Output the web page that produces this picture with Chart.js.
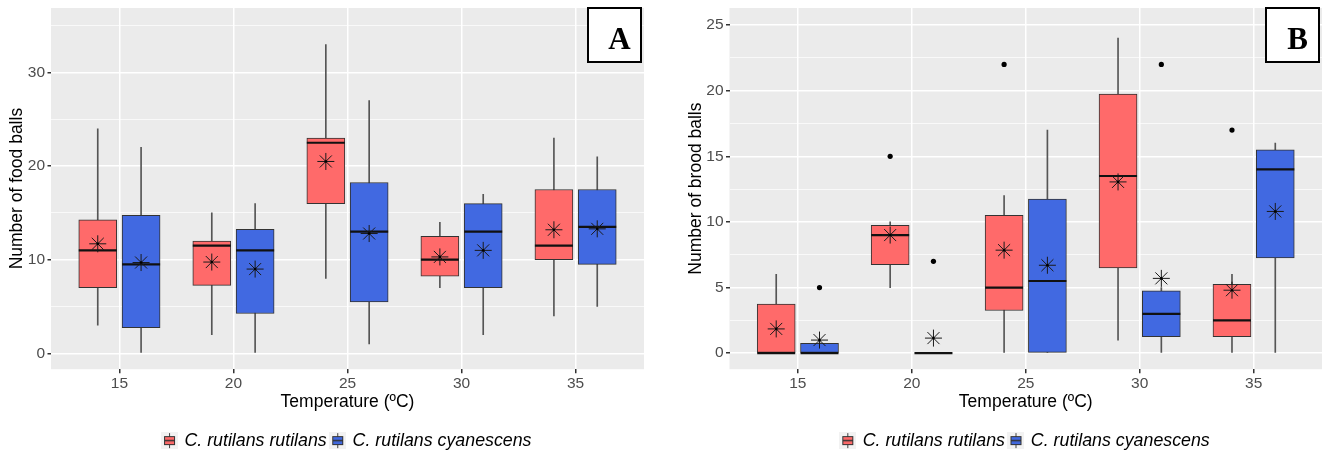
<!DOCTYPE html>
<html>
<head>
<meta charset="utf-8">
<script src="https://cdn.jsdelivr.net/npm/chart.js@4.4.1/dist/chart.umd.min.js"></script>
<style>
  html, body { margin: 0; padding: 0; background: #fff; overflow: hidden; }
  .panel { position: absolute; top: 0; width: 665px; height: 460px; }
</style>
</head>
<body>
<div class="panel" style="left:0"><canvas id="foodChart" width="665" height="460"></canvas></div>
<div class="panel" style="left:665px"><canvas id="broodChart" width="665" height="460"></canvas></div>
<script>
const temps = ["15", "20", "25", "30", "35"];
const speciesNames = ["C. rutilans rutilans", "C. rutilans cyanescens"];

// food balls, C. r. rutilans
const foodRutLo = [3, 2, 8, 7, 4];
const foodRutQ1 = [7, 7.25, 16, 8.25, 10];
const foodRutMed = [11, 11.5, 22.5, 10, 11.5];
const foodRutQ3 = [14.25, 12, 23, 12.5, 17.5];
const foodRutHi = [24, 15, 33, 14, 23];
const foodRutMean = [11.7, 9.75, 20.5, 10.3, 13.2];

// food balls, C. r. cyanescens
const foodCyaLo = [0, 0, 1, 2, 5];
const foodCyaQ1 = [2.75, 4.25, 5.5, 7, 9.5];
const foodCyaMed = [9.5, 11, 13, 13, 13.5];
const foodCyaQ3 = [14.75, 13.25, 18.25, 16, 17.5];
const foodCyaHi = [22, 16, 27, 17, 21];
const foodCyaMean = [9.7, 9, 12.8, 11, 13.3];

// brood balls, C. r. rutilans
const broodRutLo = [0, 5, 0, 1, 0];
const broodRutQ1 = [0, 6.75, 3.25, 6.5, 1.25];
const broodRutMed = [0, 9, 5, 13.5, 2.5];
const broodRutQ3 = [3.75, 9.75, 10.5, 19.75, 5.25];
const broodRutHi = [6, 10, 12, 24, 6];
const broodRutMean = [1.85, 9, 7.85, 13.05, 4.8];
const broodRutOutTemp = ["20", "25", "35"];
const broodRutOutVal = [15, 22, 17];

// brood balls, C. r. cyanescens
const broodCyaLo = [0, 0, 0, 0, 0];
const broodCyaQ1 = [0, 0, 0, 1.25, 7.25];
const broodCyaMed = [0, 0, 5.5, 3, 14];
const broodCyaQ3 = [0.75, 0, 11.75, 4.75, 15.5];
const broodCyaHi = [1, 0, 17, 5, 16];
const broodCyaMean = [1, 1.15, 6.7, 5.7, 10.8];
const broodCyaOutTemp = ["15", "20", "30"];
const broodCyaOutVal = [5, 7, 22];

const RED = "#FF6A6A";
const BLUE = "#4169E1";
const DODGE = 0.19;
const FONT = "'Liberation Sans', Arial, sans-serif";

Chart.defaults.font.family = FONT;

function keyIcon(fill) {
  const c = document.createElement("canvas");
  c.width = 17; c.height = 17;
  const g = c.getContext("2d");
  g.fillStyle = "#F2F2F2";
  g.fillRect(0, 0, 17, 17);
  g.strokeStyle = "#444";
  g.lineWidth = 1;
  g.beginPath(); g.moveTo(8.5, 1); g.lineTo(8.5, 16); g.stroke();
  g.fillStyle = fill;
  g.fillRect(3, 4, 11, 9);
  g.strokeStyle = "#333";
  g.strokeRect(3.5, 4.5, 10, 8);
  g.lineWidth = 1.5;
  g.beginPath(); g.moveTo(3, 8.5); g.lineTo(14, 8.5); g.stroke();
  return c;
}

function boxDatasets(s, shift, fill) {
  const at = (arr) => arr.map((v, i) => ({ x: i + 1 + shift, y: v }));
  const out = [
    { type: "bar", data: temps.map((t, i) => ({ x: i + 1 + shift, y: [s.lo[i], s.hi[i]] })),
      backgroundColor: "#555", barThickness: 1, grouped: false, order: 5 },
    { type: "bar", data: temps.map((t, i) => ({ x: i + 1 + shift, y: [s.q1[i], s.q3[i]] })),
      backgroundColor: fill, borderColor: "#333", borderWidth: 1, borderSkipped: false,
      barThickness: 38, grouped: false, order: 4 },
    { type: "scatter", data: at(s.med), pointStyle: "line", pointRadius: 19,
      pointBorderWidth: 2.2, pointBorderColor: "#111", order: 3 },
    { type: "scatter", data: at(s.mean), pointStyle: "star", pointRadius: 8.5,
      pointBorderWidth: 1, pointBorderColor: "#1a1a1a", order: 1 },
    { type: "scatter", data: at(s.mean), pointStyle: "circle", pointRadius: 1.3,
      pointBackgroundColor: "#000", pointBorderWidth: 0, order: 0 }
  ];
  if (s.outT) {
    out.push({ type: "scatter",
      data: s.outT.map((t, k) => ({ x: temps.indexOf(t) + 1 + shift, y: s.outV[k] })),
      pointStyle: "circle", pointRadius: 2.6, pointBackgroundColor: "#000",
      pointBorderWidth: 0, order: 2 });
  }
  return out;
}

// let layout.padding alone decide where the plot area sits
function noScalePadding(sc) {
  sc.paddingTop = 0; sc.paddingBottom = 0;
  sc.paddingLeft = 0; sc.paddingRight = 0;
}

const panelBg = {
  id: "panelBg",
  beforeDraw(chart) {
    const a = chart.chartArea, ctx = chart.ctx;
    ctx.save();
    ctx.fillStyle = "#EBEBEB";
    ctx.fillRect(a.left, a.top, a.right - a.left, a.bottom - a.top);
    ctx.restore();
  }
};

const panelTag = {
  id: "panelTag",
  afterDraw(chart, args, opts) {
    const a = chart.chartArea, ctx = chart.ctx;
    const x = a.right - 57, y = a.top - 1;
    ctx.save();
    ctx.fillStyle = "#fff";
    ctx.fillRect(x, y, 55, 56);
    ctx.strokeStyle = "#000";
    ctx.lineWidth = 2;
    ctx.strokeRect(x + 1, y + 1, 53, 54);
    ctx.fillStyle = "#000";
    ctx.font = "bold 31px 'Liberation Serif', 'Times New Roman', serif";
    ctx.textAlign = "center";
    ctx.textBaseline = "alphabetic";
    ctx.fillText(opts.text, x + 32.5, y + 42);
    ctx.restore();
  }
};

function makePanel(id, p) {
  const majorOf = (v) => Math.abs(v / p.major - Math.round(v / p.major)) < 1e-6;
  new Chart(document.getElementById(id), {
    type: "bar",
    data: {
      datasets: [
        ...boxDatasets(p.rut, -DODGE, RED),
        ...boxDatasets(p.cya, DODGE, BLUE)
      ]
    },
    options: {
      responsive: false,
      animation: false,
      events: [],
      layout: { autoPadding: false, padding: { top: 8, right: p.padRight, left: 0, bottom: 0.5 } },
      scales: {
        x: {
          type: "linear", min: 0.4, max: 5.6, offset: false,
          afterBuildTicks: (sc) => { sc.ticks = temps.map((t, i) => ({ value: i + 1 })); },
          afterFit: (sc) => { sc.height = 57.5; noScalePadding(sc); },
          ticks: { callback: (v) => temps[v - 1], color: "#4D4D4D", font: { size: 15.5 },
                   padding: 1, maxRotation: 0, autoSkip: false },
          grid: { color: "#fff", lineWidth: 1.5, offset: false, tickColor: "#333", tickLength: 4 },
          border: { display: false },
          title: { display: true, text: "Temperature (ºC)", color: "#000",
                   font: { size: 17.5 }, padding: { top: 0, bottom: 14 } }
        },
        y: {
          type: "linear", min: p.yMin, max: p.yMax, beginAtZero: false,
          afterBuildTicks: (sc) => {
            const t = [];
            for (let v = 0; v <= p.yTop; v += p.major / 2) t.push({ value: v });
            sc.ticks = t;
          },
          afterFit: (sc) => { sc.width = p.yWidth; noScalePadding(sc); },
          ticks: { callback: (v) => (majorOf(v) ? v : ""), color: "#4D4D4D",
                   font: { size: 15.5 }, padding: 2.5, autoSkip: false },
          grid: {
            color: "#fff",
            lineWidth: (c) => (c.tick && majorOf(c.tick.value) ? 1.5 : 0.7),
            tickColor: (c) => (c.tick && majorOf(c.tick.value) ? "#333" : "rgba(0,0,0,0)"),
            tickLength: 3.5
          },
          border: { display: false },
          title: { display: true, text: p.yTitle, color: "#000",
                   font: { size: 17.5 }, padding: { top: p.titlePad, bottom: 0 } }
        }
      },
      plugins: {
        tooltip: { enabled: false },
        panelTag: { text: p.tag },
        legend: {
          position: "bottom",
          fullSize: false,
          labels: {
            usePointStyle: true,
            pointStyleWidth: 12,
            padding: 5,
            color: "#000",
            font: { size: 17.8, style: "italic" },
            generateLabels: () => [
              { text: speciesNames[0], pointStyle: keyIcon(RED), fontColor: "#000",
                hidden: false, lineWidth: 0, fillStyle: RED, strokeStyle: RED },
              { text: speciesNames[1], pointStyle: keyIcon(BLUE), fontColor: "#000",
                hidden: false, lineWidth: 0, fillStyle: BLUE, strokeStyle: BLUE }
            ]
          }
        }
      }
    },
    plugins: [panelBg, panelTag]
  });
}

makePanel("foodChart", {
  tag: "A", yTitle: "Number of food balls",
  yMin: -1.7, yMax: 36.9, yTop: 35, major: 10,
  yWidth: 51, titlePad: 6.5, padRight: 21,
  rut: { lo: foodRutLo, q1: foodRutQ1, med: foodRutMed, q3: foodRutQ3, hi: foodRutHi, mean: foodRutMean },
  cya: { lo: foodCyaLo, q1: foodCyaQ1, med: foodCyaMed, q3: foodCyaQ3, hi: foodCyaHi, mean: foodCyaMean }
});

makePanel("broodChart", {
  tag: "B", yTitle: "Number of brood balls",
  yMin: -1.22, yMax: 26.3, yTop: 25, major: 5,
  yWidth: 64.5, titlePad: 20.5, padRight: 8,
  rut: { lo: broodRutLo, q1: broodRutQ1, med: broodRutMed, q3: broodRutQ3, hi: broodRutHi,
         mean: broodRutMean, outT: broodRutOutTemp, outV: broodRutOutVal },
  cya: { lo: broodCyaLo, q1: broodCyaQ1, med: broodCyaMed, q3: broodCyaQ3, hi: broodCyaHi,
         mean: broodCyaMean, outT: broodCyaOutTemp, outV: broodCyaOutVal }
});
</script>
</body>
</html>
